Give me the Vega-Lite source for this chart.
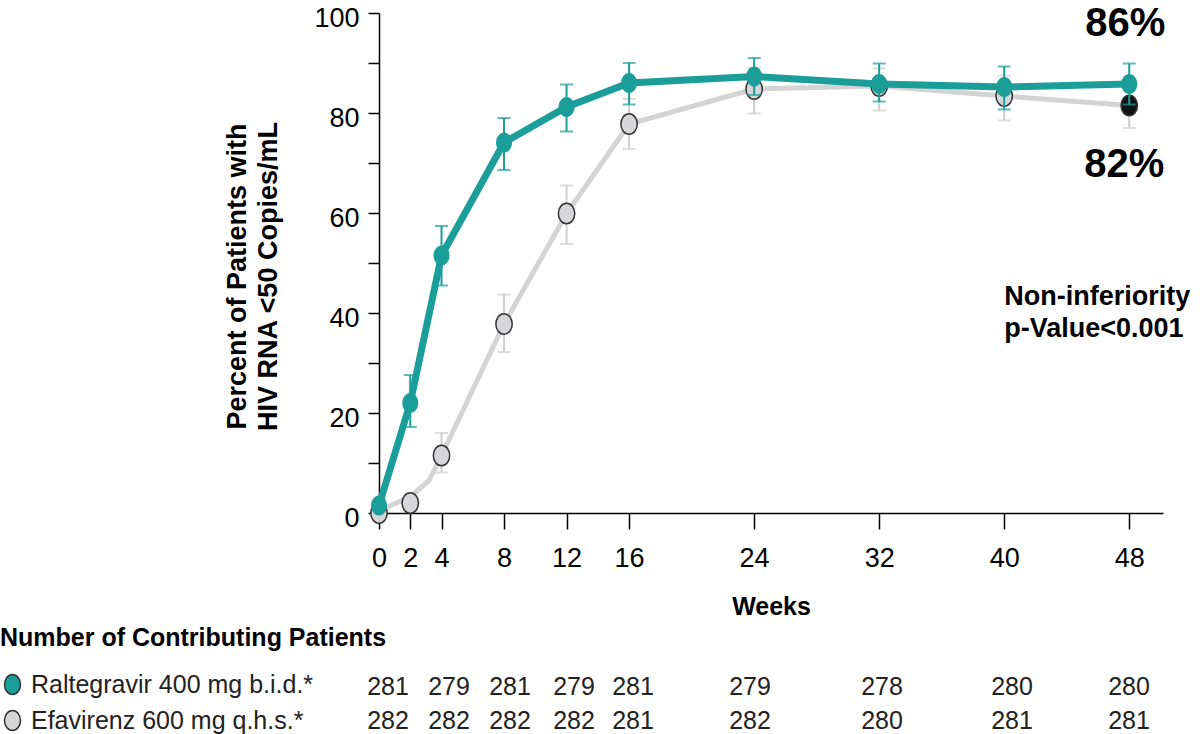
{
  "$schema": "https://vega.github.io/schema/vega-lite/v6.json",
  "width": 784,
  "height": 500,
  "autosize": {"type": "none"},
  "padding": {"left": 379, "top": 13, "right": 37, "bottom": 221},
  "background": "white",
  "config": {"view": {"stroke": null}, "font": "Liberation Sans"},
  "datasets": {
    "obs": [
      {"series": "Raltegravir 400 mg b.i.d.*", "week": 0, "pct": 1.5},
      {"series": "Raltegravir 400 mg b.i.d.*", "week": 2, "pct": 22, "lo": 17.2, "hi": 27.6},
      {"series": "Raltegravir 400 mg b.i.d.*", "week": 4, "pct": 51.5, "lo": 45.5, "hi": 57.4},
      {"series": "Raltegravir 400 mg b.i.d.*", "week": 8, "pct": 74.1, "lo": 68.6, "hi": 79},
      {"series": "Raltegravir 400 mg b.i.d.*", "week": 12, "pct": 81.2, "lo": 76.3, "hi": 85.7},
      {"series": "Raltegravir 400 mg b.i.d.*", "week": 16, "pct": 86, "lo": 81.7, "hi": 90},
      {"series": "Raltegravir 400 mg b.i.d.*", "week": 24, "pct": 87.3, "lo": 83.6, "hi": 91},
      {"series": "Raltegravir 400 mg b.i.d.*", "week": 32, "pct": 85.8, "lo": 82.3, "hi": 89.9},
      {"series": "Raltegravir 400 mg b.i.d.*", "week": 40, "pct": 85.2, "lo": 80.7, "hi": 89.3},
      {"series": "Raltegravir 400 mg b.i.d.*", "week": 48, "pct": 85.8, "lo": 81.7, "hi": 89.9},
      {"series": "Efavirenz 600 mg q.h.s.*", "week": 0, "pct": 0},
      {"series": "Efavirenz 600 mg q.h.s.*", "week": 2, "pct": 2},
      {"series": "Efavirenz 600 mg q.h.s.*", "week": 4, "pct": 11.5, "lo": 8.1, "hi": 16},
      {"series": "Efavirenz 600 mg q.h.s.*", "week": 8, "pct": 37.8, "lo": 32.2, "hi": 43.7},
      {"series": "Efavirenz 600 mg q.h.s.*", "week": 12, "pct": 59.9, "lo": 53.8, "hi": 65.5},
      {"series": "Efavirenz 600 mg q.h.s.*", "week": 16, "pct": 77.8, "lo": 72.8, "hi": 82.8},
      {"series": "Efavirenz 600 mg q.h.s.*", "week": 24, "pct": 84.8, "lo": 79.9, "hi": 89},
      {"series": "Efavirenz 600 mg q.h.s.*", "week": 32, "pct": 85.4, "lo": 80.5, "hi": 88.9},
      {"series": "Efavirenz 600 mg q.h.s.*", "week": 40, "pct": 83.4, "lo": 78.5, "hi": 87.5},
      {"series": "Efavirenz 600 mg q.h.s.*", "week": 48, "pct": 81.5, "lo": 77, "hi": 85.5}
    ],
    "efvLine": [
      {"week": 0, "pct": 0.5},
      {"week": 2, "pct": 3.2},
      {"week": 3.2, "pct": 6.5},
      {"week": 4, "pct": 11.5},
      {"week": 8, "pct": 37.8},
      {"week": 12, "pct": 59.9},
      {"week": 16, "pct": 77.8},
      {"week": 24, "pct": 84.8},
      {"week": 32, "pct": 85.4},
      {"week": 40, "pct": 83.4},
      {"week": 48, "pct": 81.5}
    ],
    "counts": [
      {"series": "Raltegravir 400 mg b.i.d.*", "week": 2, "n": 281},
      {"series": "Raltegravir 400 mg b.i.d.*", "week": 4, "n": 279},
      {"series": "Raltegravir 400 mg b.i.d.*", "week": 8, "n": 281},
      {"series": "Raltegravir 400 mg b.i.d.*", "week": 12, "n": 279},
      {"series": "Raltegravir 400 mg b.i.d.*", "week": 16, "n": 281},
      {"series": "Raltegravir 400 mg b.i.d.*", "week": 24, "n": 279},
      {"series": "Raltegravir 400 mg b.i.d.*", "week": 32, "n": 278},
      {"series": "Raltegravir 400 mg b.i.d.*", "week": 40, "n": 280},
      {"series": "Raltegravir 400 mg b.i.d.*", "week": 48, "n": 280},
      {"series": "Efavirenz 600 mg q.h.s.*", "week": 2, "n": 282},
      {"series": "Efavirenz 600 mg q.h.s.*", "week": 4, "n": 282},
      {"series": "Efavirenz 600 mg q.h.s.*", "week": 8, "n": 282},
      {"series": "Efavirenz 600 mg q.h.s.*", "week": 12, "n": 282},
      {"series": "Efavirenz 600 mg q.h.s.*", "week": 16, "n": 281},
      {"series": "Efavirenz 600 mg q.h.s.*", "week": 24, "n": 282},
      {"series": "Efavirenz 600 mg q.h.s.*", "week": 32, "n": 280},
      {"series": "Efavirenz 600 mg q.h.s.*", "week": 40, "n": 281},
      {"series": "Efavirenz 600 mg q.h.s.*", "week": 48, "n": 281}
    ],
    "notes": [
      {"note": "Non-inferiority", "week": 40, "pct": 43.3},
      {"note": "p-Value<0.001", "week": 40, "pct": 36.9}
    ]
  },
  "layer": [
    {
      "layer": [
        {
          "data": {"name": "efvLine"},
          "mark": {"type": "line", "color": "#d4d4d4", "strokeWidth": 5},
          "encoding": {
            "x": {
              "field": "week", "type": "quantitative",
              "scale": {"domain": [0, 50.16], "nice": false, "zero": false},
              "axis": {
                "values": [0, 2, 4, 8, 12, 16, 24, 32, 40, 48],
                "tickSize": 16, "labelPadding": 16, "labelFontSize": 27, "labelColor": "black",
                "labelFont": "Liberation Sans", "labelOverlap": false, "labelFlush": false, "labelBaseline": "top",
                "domainColor": "black", "domainWidth": 1.5, "tickColor": "black", "tickWidth": 1.5, "grid": false,
                "title": "Weeks", "titleFont": "Liberation Sans", "titleFontSize": 25, "titleFontWeight": "bold",
                "titleColor": "black", "titleBaseline": "alphabetic", "titleY": 101
              }
            },
            "y": {
              "field": "pct", "type": "quantitative",
              "scale": {"domain": [0, 100], "nice": false},
              "axis": {
                "values": [0, 10, 20, 30, 40, 50, 60, 70, 80, 90, 100],
                "labelExpr": "datum.value % 20 === 0 ? datum.label : ''",
                "tickSize": 11, "labelPadding": 9, "labelOffset": 5, "labelFontSize": 27, "labelColor": "black",
                "labelFont": "Liberation Sans", "labelOverlap": false, "labelFlush": false,
                "domainColor": "black", "domainWidth": 1.5, "tickColor": "black", "tickWidth": 1.5, "grid": false,
                "title": ["Percent of Patients with", "HIV RNA <50 Copies/mL"],
                "titleFont": "Liberation Sans", "titleFontSize": 27, "titleFontWeight": "bold", "titleColor": "black",
                "titleLineHeight": 31, "titleX": -134, "titleY": 263, "titleAlign": "center",
                "titleBaseline": "alphabetic", "titleAngle": 270
              }
            }
          }
        },
        {
          "data": {"name": "obs"},
          "transform": [{"filter": "datum.series === 'Efavirenz 600 mg q.h.s.*' && isValid(datum.lo)"}],
          "mark": {"type": "rule", "color": "#cfcfcf", "strokeWidth": 2},
          "encoding": {
            "x": {"field": "week", "type": "quantitative"},
            "y": {"field": "lo", "type": "quantitative"},
            "y2": {"field": "hi"}
          }
        },
        {
          "data": {"name": "obs"},
          "transform": [{"filter": "datum.series === 'Efavirenz 600 mg q.h.s.*' && isValid(datum.lo)"}],
          "mark": {"type": "tick", "orient": "horizontal", "color": "#cfcfcf", "size": 13, "thickness": 2},
          "encoding": {
            "x": {"field": "week", "type": "quantitative"},
            "y": {"field": "lo", "type": "quantitative"}
          }
        },
        {
          "data": {"name": "obs"},
          "transform": [{"filter": "datum.series === 'Efavirenz 600 mg q.h.s.*' && isValid(datum.lo)"}],
          "mark": {"type": "tick", "orient": "horizontal", "color": "#cfcfcf", "size": 13, "thickness": 2},
          "encoding": {
            "x": {"field": "week", "type": "quantitative"},
            "y": {"field": "hi", "type": "quantitative"}
          }
        },
        {
          "data": {"name": "obs"},
          "transform": [{"filter": "datum.series === 'Efavirenz 600 mg q.h.s.*'"}],
          "mark": {
            "type": "point", "filled": true, "opacity": 1, "size": 420,
            "shape": "M -0.8 0 A 0.8 1 0 1 0 0.8 0 A 0.8 1 0 1 0 -0.8 0 Z",
            "stroke": "#333333", "strokeWidth": 1.5
          },
          "encoding": {
            "x": {"field": "week", "type": "quantitative"},
            "y": {"field": "pct", "type": "quantitative"},
            "fill": {
              "condition": {"test": "datum.week === 48", "value": "#111111"},
              "field": "series", "type": "nominal",
              "scale": {
                "domain": ["Raltegravir 400 mg b.i.d.*", "Efavirenz 600 mg q.h.s.*"],
                "range": ["#1b9e99", "#d6d6d8"]
              },
              "legend": {
                "orient": "none", "legendX": -379, "legendY": 613, "padding": 0,
                "title": "Number of Contributing Patients",
                "titleFont": "Liberation Sans", "titleFontSize": 25, "titleFontWeight": "bold", "titleColor": "black",
                "titleAnchor": "start", "titlePadding": 21, "titleLimit": 900,
                "labelFont": "Liberation Sans", "labelFontSize": 25, "labelColor": "#222222", "labelLimit": 600,
                "labelOffset": 6,
                "symbolType": "M -0.8 0 A 0.8 1 0 1 0 0.8 0 A 0.8 1 0 1 0 -0.8 0 Z",
                "symbolSize": 400, "rowPadding": 9,
                "encode": {
                  "symbols": {"update": {"stroke": {"value": "#333333"}, "strokeWidth": {"value": 1.5}, "opacity": {"value": 1}}},
                  "title": {"update": {"dx": {"value": 5}}}
                }
              }
            }
          }
        },
        {
          "data": {"name": "obs"},
          "transform": [{"filter": "datum.series === 'Raltegravir 400 mg b.i.d.*'"}],
          "mark": {"type": "line", "color": "#1b9e99", "strokeWidth": 7},
          "encoding": {
            "x": {"field": "week", "type": "quantitative"},
            "y": {"field": "pct", "type": "quantitative"}
          }
        },
        {
          "data": {"name": "obs"},
          "transform": [{"filter": "datum.series === 'Raltegravir 400 mg b.i.d.*' && isValid(datum.lo)"}],
          "mark": {"type": "rule", "color": "#1b9e99", "strokeWidth": 2},
          "encoding": {
            "x": {"field": "week", "type": "quantitative"},
            "y": {"field": "lo", "type": "quantitative"},
            "y2": {"field": "hi"}
          }
        },
        {
          "data": {"name": "obs"},
          "transform": [{"filter": "datum.series === 'Raltegravir 400 mg b.i.d.*' && isValid(datum.lo)"}],
          "mark": {"type": "tick", "orient": "horizontal", "color": "#1b9e99", "size": 13, "thickness": 2},
          "encoding": {
            "x": {"field": "week", "type": "quantitative"},
            "y": {"field": "lo", "type": "quantitative"}
          }
        },
        {
          "data": {"name": "obs"},
          "transform": [{"filter": "datum.series === 'Raltegravir 400 mg b.i.d.*' && isValid(datum.lo)"}],
          "mark": {"type": "tick", "orient": "horizontal", "color": "#1b9e99", "size": 13, "thickness": 2},
          "encoding": {
            "x": {"field": "week", "type": "quantitative"},
            "y": {"field": "hi", "type": "quantitative"}
          }
        },
        {
          "data": {"name": "obs"},
          "transform": [{"filter": "datum.series === 'Raltegravir 400 mg b.i.d.*'"}],
          "mark": {
            "type": "point", "filled": true, "opacity": 1, "size": 400,
            "shape": "M -0.8 0 A 0.8 1 0 1 0 0.8 0 A 0.8 1 0 1 0 -0.8 0 Z",
            "strokeWidth": 0
          },
          "encoding": {
            "x": {"field": "week", "type": "quantitative"},
            "y": {"field": "pct", "type": "quantitative"},
            "fill": {"field": "series", "type": "nominal"}
          }
        },
        {
          "data": {"name": "obs"},
          "transform": [
            {"filter": "datum.week === 48 && datum.series === 'Raltegravir 400 mg b.i.d.*'"},
            {"calculate": "format(datum.pct, '.0f') + '%'", "as": "label"}
          ],
          "mark": {"type": "text", "font": "Liberation Sans", "fontSize": 40, "fontWeight": "bold", "color": "black", "align": "center", "baseline": "middle", "dx": -4, "dy": -60},
          "encoding": {
            "x": {"field": "week", "type": "quantitative"},
            "y": {"field": "pct", "type": "quantitative"},
            "text": {"field": "label", "type": "nominal"}
          }
        },
        {
          "data": {"name": "obs"},
          "transform": [
            {"filter": "datum.week === 48 && datum.series === 'Efavirenz 600 mg q.h.s.*'"},
            {"calculate": "format(datum.pct, '.0f') + '%'", "as": "label"}
          ],
          "mark": {"type": "text", "font": "Liberation Sans", "fontSize": 40, "fontWeight": "bold", "color": "black", "align": "center", "baseline": "middle", "dx": -5, "dy": 59},
          "encoding": {
            "x": {"field": "week", "type": "quantitative"},
            "y": {"field": "pct", "type": "quantitative"},
            "text": {"field": "label", "type": "nominal"}
          }
        },
        {
          "data": {"name": "notes"},
          "mark": {"type": "text", "font": "Liberation Sans", "fontSize": 27, "fontWeight": "bold", "color": "black", "align": "left", "baseline": "middle"},
          "encoding": {
            "x": {"field": "week", "type": "quantitative"},
            "y": {"field": "pct", "type": "quantitative"},
            "text": {"field": "note", "type": "nominal"}
          }
        }
      ]
    },
    {
      "data": {"name": "counts"},
      "mark": {"type": "text", "font": "Liberation Sans", "fontSize": 25, "color": "#222222", "baseline": "middle", "align": "center"},
      "encoding": {
        "x": {
          "field": "week", "type": "quantitative",
          "scale": {"domain": [2, 4, 8, 12, 16, 24, 32, 40, 48], "range": [9, 70, 131, 195, 254, 371, 503, 633, 750]},
          "axis": null
        },
        "y": {
          "field": "series", "type": "nominal",
          "scale": {"type": "point", "domain": ["Raltegravir 400 mg b.i.d.*", "Efavirenz 600 mg q.h.s.*"], "range": [673.5, 707.5], "padding": 0},
          "axis": null
        },
        "text": {"field": "n", "type": "quantitative"}
      }
    }
  ],
  "resolve": {"scale": {"x": "independent", "y": "independent"}}
}
